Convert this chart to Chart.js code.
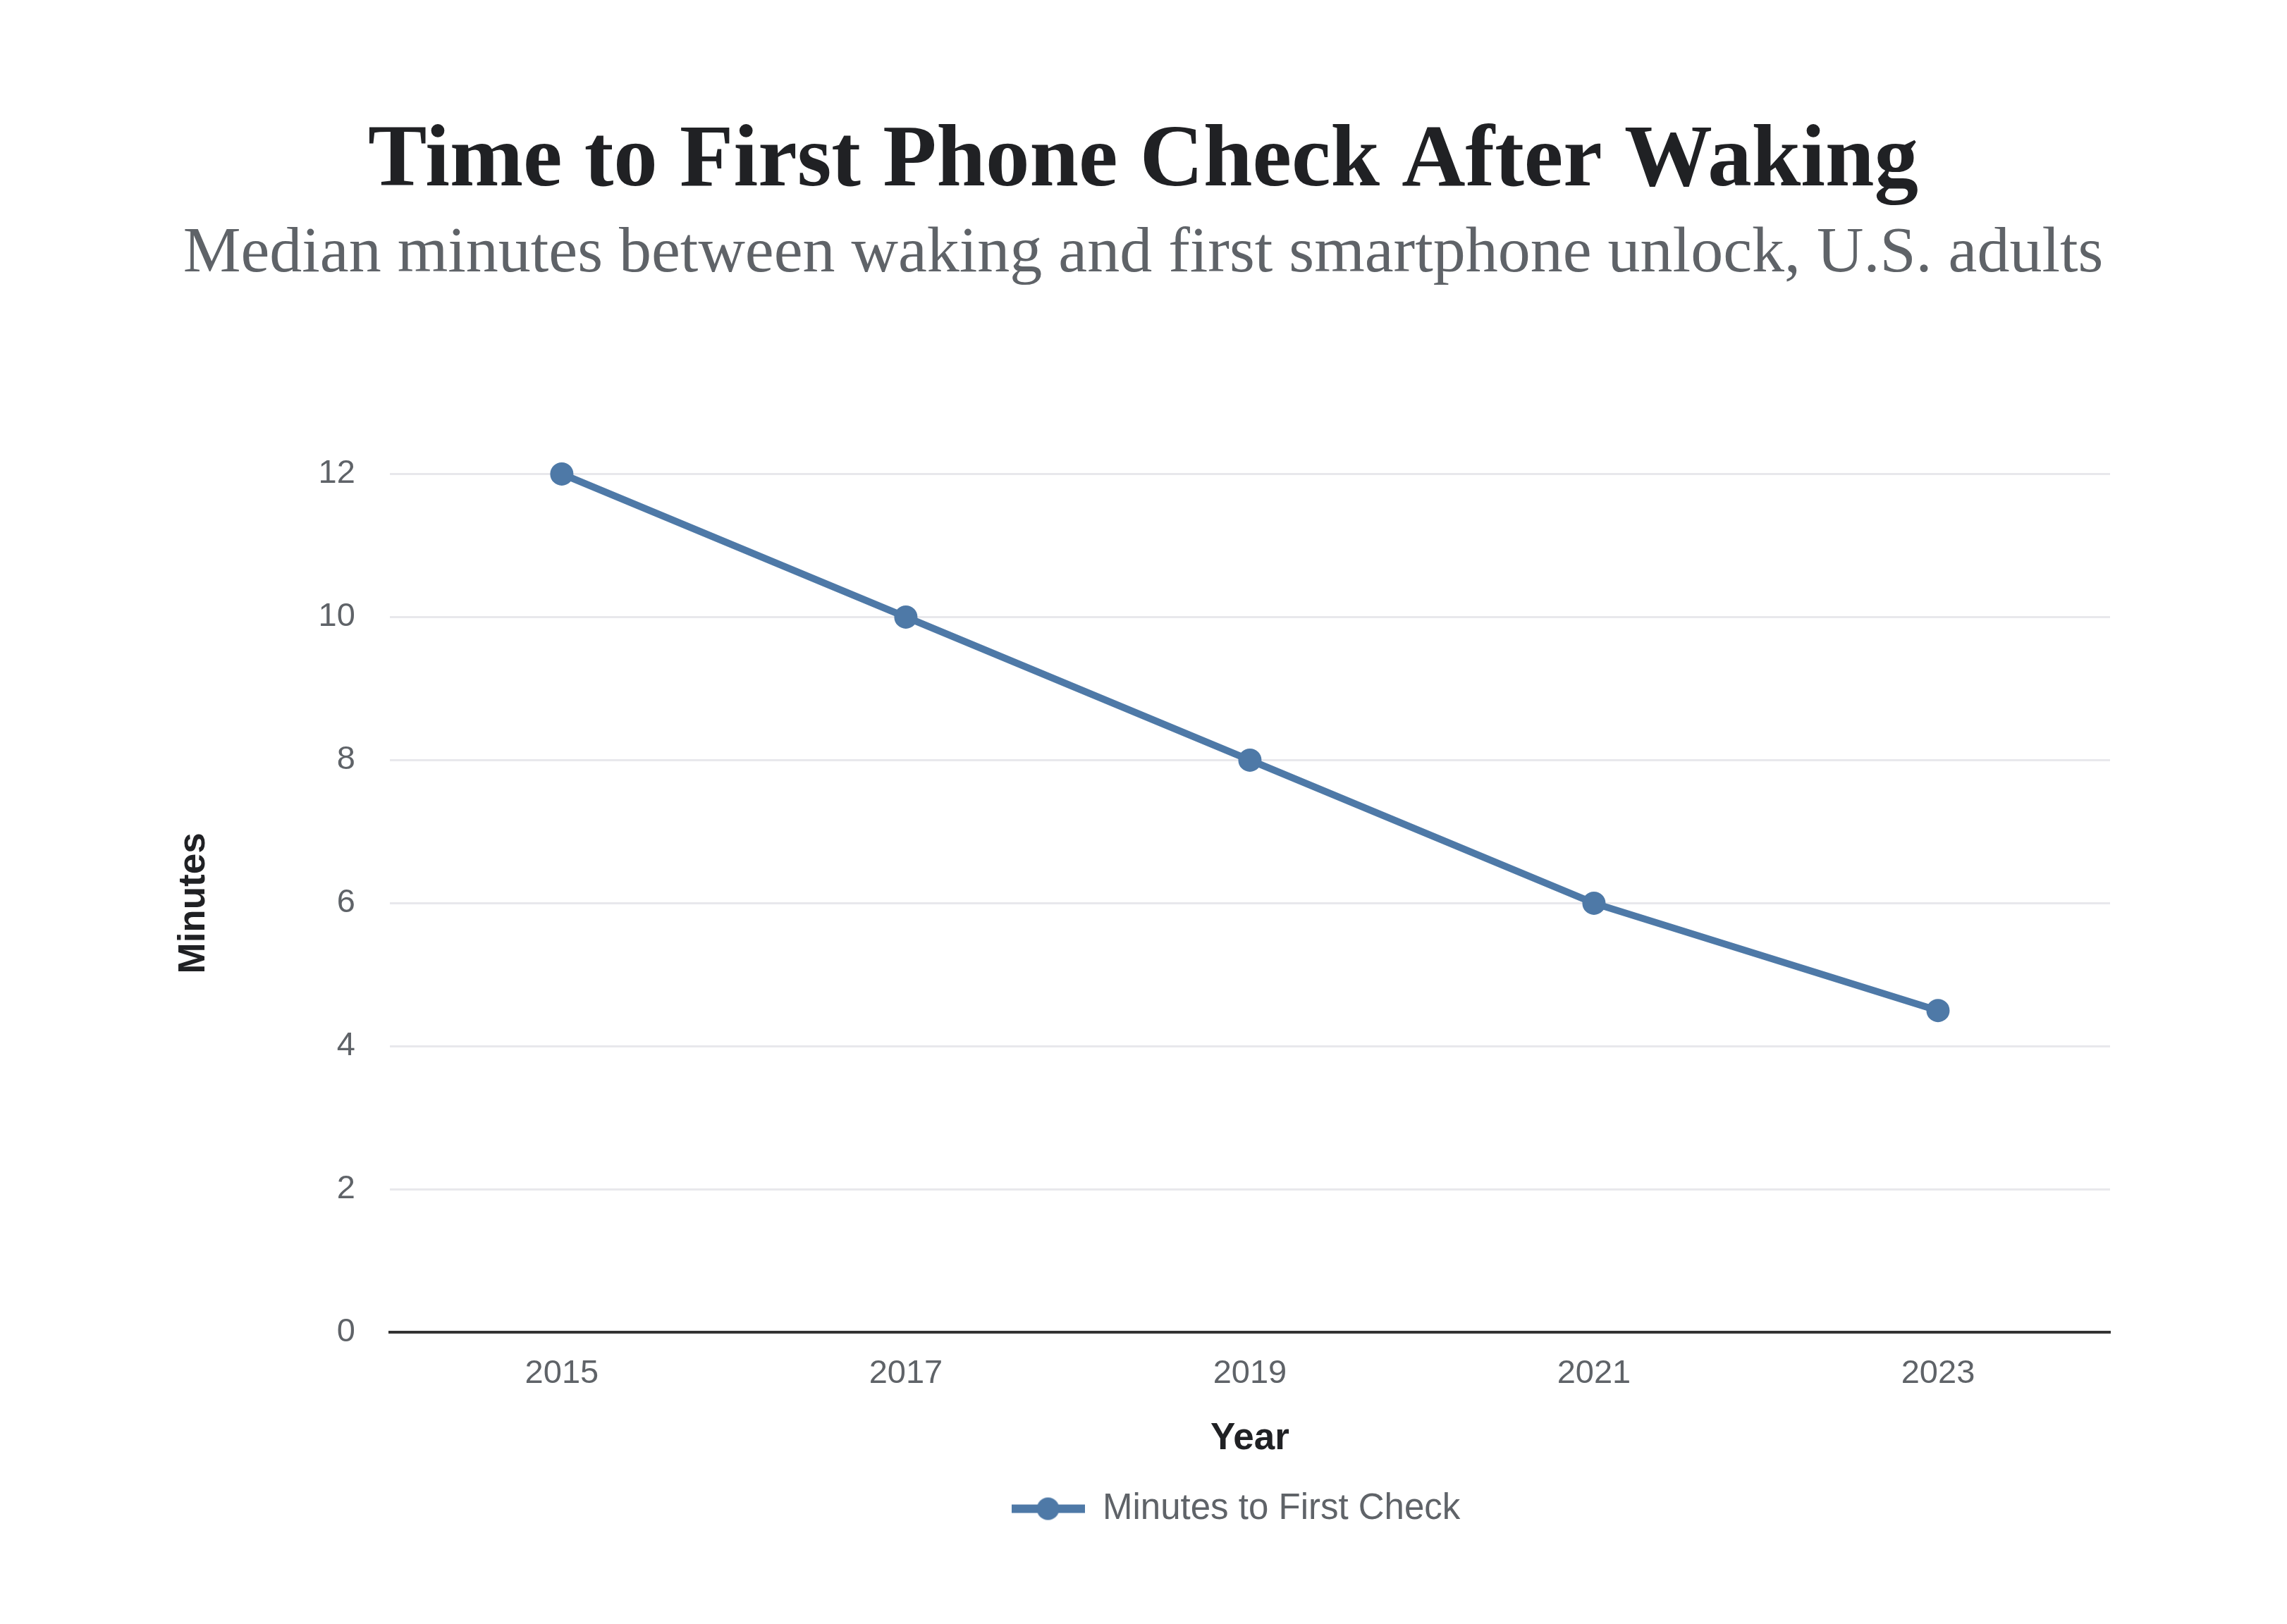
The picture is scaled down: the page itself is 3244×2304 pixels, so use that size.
<!DOCTYPE html>
<html>
<head>
<meta charset="utf-8">
<title>Time to First Phone Check After Waking</title>
<script src="https://cdn.jsdelivr.net/npm/chart.js@4.4.1/dist/chart.umd.min.js"></script>
<style>
  html, body { margin: 0; padding: 0; background: #fff; overflow: hidden; }
  #wrap { width: 100vw; height: 100vh; }
</style>
</head>
<body>
<div id="wrap"><canvas id="chartMinutes"></canvas></div>
<script>
// data
const years = ['2015', '2017', '2019', '2021', '2023'];
const minutesToFirstCheck = [12, 10, 8, 6, 4.5];
const yTicks = [0, 2, 4, 6, 8, 10, 12];

const colors = {
    line: '#4e79a7',
    title: '#202124',
    muted: '#5f6368',
    grid: '#e8e8ec',
    axis: '#333333'
}

const sans = '"Liberation Sans", Arial, Helvetica, sans-serif';
const serif = '"Liberation Serif", "Times New Roman", serif';

// legend marker: a short line with a dot in the middle
const legendMarker = function(w, h, lineW, r) {
    const c = document.createElement('canvas');
    c.width = w;
    c.height = h;
    const g = c.getContext('2d');
    g.fillStyle = colors.line;
    g.fillRect(0, (h - lineW) / 2, w, lineW);
    g.beginPath();
    g.arc(w / 2, h / 2, r, 0, Math.PI * 2);
    g.fill();
    return c;
}
const marker = legendMarker(104, 34, 12, 16);

// titles centred on the page, legend nudged a little left, as in the reference
const boxShift = {
    id: 'boxShift',
    afterLayout(chart) {
        chart.boxes.forEach(box => {
            if (box.position === 'top' && box.fullSize) {
                box.left += 50;
                box.right += 50;
            }
        });
        chart.legend.left -= 20;
        chart.legend.right -= 20;
    }
}

const ctx = document.getElementById('chartMinutes').getContext('2d');
const chartMinutes = new Chart(ctx, {
    type: 'line',
    data: {
        labels: years,
        datasets: [{
            label: 'Minutes to First Check',
            data: minutesToFirstCheck,
            borderColor: colors.line,
            backgroundColor: colors.line,
            borderWidth: 10,
            tension: 0,
            fill: false,
            clip: false,
            pointRadius: 15,
            pointBorderWidth: 3,
            pointBackgroundColor: colors.line,
            pointBorderColor: colors.line
        }]
    },
    plugins: [boxShift],
    options: {
        responsive: true,
        maintainAspectRatio: false,
        animation: false,
        layout: {
            padding: { top: 0, left: 150, right: 251, bottom: 128 }
        },
        plugins: {
            title: {
                display: true,
                text: 'Time to First Phone Check After Waking',
                color: colors.title,
                font: { family: serif, size: 125, weight: 'bold', lineHeight: 1.2 },
                padding: { top: 156, bottom: 0 }
            },
            subtitle: {
                display: true,
                text: 'Median minutes between waking and first smartphone unlock, U.S. adults',
                color: colors.muted,
                font: { family: serif, size: 92, weight: 'normal', lineHeight: 1.2 },
                padding: { top: 0, bottom: 256 }
            },
            legend: {
                display: true,
                position: 'bottom',
                align: 'center',
                fullSize: false,
                labels: {
                    usePointStyle: true,
                    pointStyleWidth: 104,
                    padding: 32,
                    color: colors.muted,
                    font: { family: sans, size: 51 },
                    generateLabels(chart) {
                        return chart.data.datasets.map((ds, i) => ({
                            text: ds.label,
                            pointStyle: marker,
                            fillStyle: ds.borderColor,
                            strokeStyle: ds.borderColor,
                            lineWidth: 0,
                            fontColor: colors.muted,
                            hidden: false,
                            datasetIndex: i
                        }));
                    }
                }
            },
            tooltip: { enabled: false }
        },
        scales: {
            x: {
                offset: true,
                grid: { display: false, drawTicks: false },
                border: { display: true, color: colors.axis, width: 4 },
                ticks: {
                    color: colors.muted,
                    padding: 35,
                    font: { family: sans, size: 47, lineHeight: 1 }
                },
                title: {
                    display: true,
                    text: 'Year',
                    color: colors.title,
                    font: { family: sans, size: 53, weight: 'bold', lineHeight: 1.2 },
                    padding: { top: 2, bottom: 10 }
                }
            },
            y: {
                min: 0,
                max: 12,
                afterBuildTicks(axis) {
                    axis.ticks = yTicks.map(v => ({ value: v }));
                },
                grid: { color: colors.grid, lineWidth: 3, drawTicks: false },
                border: { display: false },
                ticks: {
                    color: colors.muted,
                    padding: 49,
                    font: { family: sans, size: 47, lineHeight: 1.2 }
                },
                title: {
                    display: true,
                    text: 'Minutes',
                    color: colors.title,
                    font: { family: sans, size: 53, weight: 'bold', lineHeight: 1.2 },
                    padding: { top: 94, bottom: 95 }
                }
            }
        }
    }
});
</script>
</body>
</html>
